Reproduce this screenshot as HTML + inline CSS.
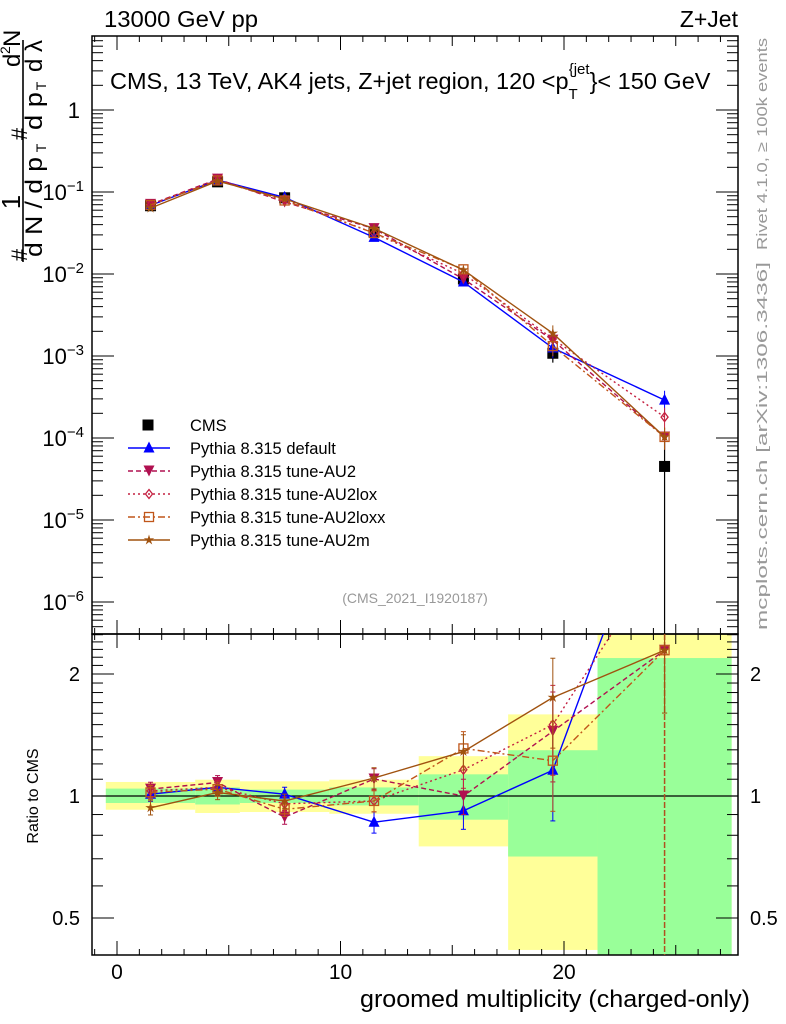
<!DOCTYPE html>
<html><head><meta charset="utf-8"><style>
html,body{margin:0;padding:0;background:#fff;}
svg{display:block;font-family:"Liberation Sans",sans-serif;}
</style></head><body>
<svg id="chart" width="786" height="1024" viewBox="0 0 786 1024"></svg>
<script>
const centers=[1.5,4.5,7.5,11.5,15.5,19.5,24.5];
const binEdges=[-0.5,3.5,5.5,9.5,13.5,17.5,21.5,27.5];
const cmsVals=[0.068,0.133,0.085,0.0325,0.0087,0.00108,0.000045];
const cmsErrLo=[0.003,0.005,0.004,0.0015,0.0007,0.00025,0.000045];
const cmsErrHi=[0.003,0.005,0.004,0.0015,0.0007,0.00025,0.000045];
const bandTotLo=[0.925,0.908,0.913,0.904,0.751,0.417,0.3];
const bandTotHi=[1.083,1.097,1.087,1.097,1.254,1.59,3.0];
const bandStatLo=[0.961,0.953,0.961,0.948,0.874,0.709,0.3];
const bandStatHi=[1.043,1.05,1.037,1.05,1.131,1.297,2.19];
const defVals=[0.0687,0.1397,0.0859,0.0280,0.0080,0.00125,0.00029];
const au2Vals=[0.0707,0.1436,0.0754,0.0358,0.0087,0.00156,0.000103];
const loxVals=[0.0700,0.1397,0.0813,0.0316,0.0101,0.00162,0.00018];
const loxxVals=[0.0694,0.1383,0.0788,0.0316,0.0114,0.00132,0.000103];
const au2mVals=[0.0636,0.1357,0.0826,0.0360,0.0112,0.00189,0.000103];
const modelRelErr=[0.04,0.04,0.04,0.06,0.1,0.25,0.3];
const seriesNames=["Pythia 8.315 default","Pythia 8.315 tune-AU2","Pythia 8.315 tune-AU2lox","Pythia 8.315 tune-AU2loxx","Pythia 8.315 tune-AU2m"];
const mainTicks=[0,-1,-2,-3,-4,-5,-6];
const ratioTicks=[0.5,1,2];
const xTicks=[0,10,20];

const NS="http://www.w3.org/2000/svg";
const svg=document.getElementById('chart');
function mk(tag,attrs,parent){const e=document.createElementNS(NS,tag);for(const k in attrs)e.setAttribute(k,attrs[k]);(parent||svg).appendChild(e);return e;}
const L=92,R=738,T=36,MB=634,RB=955;
const X=v=>117+(v)*22.35;
const Y=v=>110-Math.log10(v)*82;
const RY=v=>796-Math.log2(v)*122;
const clampR=y=>Math.max(634,Math.min(955,y));

const gb=mk('g',{});


for(let i=0;i<centers.length;i++){
  const x0=X(binEdges[i]),x1=X(binEdges[i+1]);
  let y0=clampR(RY(bandTotHi[i])),y1=clampR(RY(bandTotLo[i]));
  const r=mk('rect',{x:x0,y:y0,width:x1-x0,height:y1-y0,fill:'#ffff99'},gb);
  
  
  y0=clampR(RY(bandStatHi[i]));y1=clampR(RY(bandStatLo[i]));
  const g=mk('rect',{x:x0,y:y0,width:x1-x0,height:y1-y0,fill:'#99ff99'},gb);
  
  
}
mk('line',{x1:L,x2:R,y1:RY(1),y2:RY(1),stroke:'#000','stroke-width':1.2});

const fr=mk('rect',{x:L,y:T,width:R-L,height:MB-T,fill:'none',stroke:'#000','stroke-width':1.5});


const fr2=mk('rect',{x:L,y:MB,width:R-L,height:RB-MB,fill:'none',stroke:'#000','stroke-width':1.5});



for(let v=-1;v<=27;v++){
  const x=X(v);const major=v%10===0;const len=major?14:(v%5===0?10:6);
  [[MB,-1],[T,1],[RB,-1],[MB,1]].forEach(([y,d])=>mk('line',{x1:x,x2:x,y1:y,y2:y+d*len,stroke:'#000','stroke-width':1}));
}
xTicks.forEach(v=>{const t=mk('text',{x:X(v),y:979,'font-size':21,'text-anchor':'middle'});t.textContent=v;

});
for(let d=1;d>=-7;d--){for(let m=1;m<=9;m++){const v=m*Math.pow(10,d);const y=Y(v);if(y<T||y>MB)continue;const len=m===1?22:11;
 mk('line',{x1:L,x2:L+len,y1:y,y2:y,stroke:'#000'});mk('line',{x1:R,x2:R-len,y1:y,y2:y,stroke:'#000'});}}
mainTicks.forEach(p=>{const t=mk('text',{x:p===0?80:84,y:Y(Math.pow(10,p))+8,'font-size':22,'text-anchor':'end'});
 if(p===0)t.textContent='1';else{t.textContent='10';const s=mk('tspan',{dy:-9,'font-size':15},t);s.textContent='\u2212'+(-p);}
 
 });
for(let v=0.4;v<=2.55;v+=0.1){const y=RY(v);if(y<MB||y>RB)continue;const maj=[0.5,1,2].some(q=>Math.abs(q-v)<1e-6);const len=maj?22:11;
 mk('line',{x1:L,x2:L+len,y1:y,y2:y,stroke:'#000'});mk('line',{x1:R,x2:R-len,y1:y,y2:y,stroke:'#000'});}
ratioTicks.forEach(v=>{[[80,'end'],[750,'start']].forEach(([x,a])=>{const t=mk('text',{x:x,y:RY(v)+7,'font-size':20,'text-anchor':a});t.textContent=v;

});});

function marker(g,type,x,y,c){
 const s=5.5;
 if(type==='sq')mk('rect',{x:x-s,y:y-s,width:2*s,height:2*s,fill:'#000'},g);
 else if(type==='up')mk('polygon',{points:`${x},${y-s-1} ${x-s},${y+s-1} ${x+s},${y+s-1}`,fill:c},g);
 else if(type==='down')mk('polygon',{points:`${x},${y+s} ${x-s},${y-s} ${x+s},${y-s}`,fill:c},g);
 else if(type==='dia')mk('polygon',{points:`${x},${y-4.5} ${x+3.5},${y} ${x},${y+4.5} ${x-3.5},${y}`,fill:'none',stroke:c,'stroke-width':1.3},g);
 else if(type==='osq')mk('rect',{x:x-4.5,y:y-4.5,width:9,height:9,fill:'none',stroke:c,'stroke-width':1.3},g);
 else if(type==='star'){let p=[];for(let k=0;k<10;k++){const r=k%2?2:5.5;const a=-Math.PI/2+k*Math.PI/5;p.push((x+r*Math.cos(a))+','+(y+r*Math.sin(a)));}mk('polygon',{points:p.join(' '),fill:c},g);}
}
const series=[
 {vals:defVals,c:'#0000ff',m:'up',dash:'',name:'default'},
 {vals:au2Vals,c:'#b01050',m:'down',dash:'5,3',name:'au2'},
 {vals:loxVals,c:'#c42040',m:'dia',dash:'2,3',name:'au2lox'},
 {vals:loxxVals,c:'#c0561a',m:'osq',dash:'7,3,2,3',name:'au2loxx'},
 {vals:au2mVals,c:'#a0520f',m:'star',dash:'',name:'au2m'}];

const clipM=mk('clipPath',{id:'cm'});mk('rect',{x:L,y:T,width:R-L,height:MB-T},clipM);
const clipR=mk('clipPath',{id:'cr'});mk('rect',{x:L,y:MB,width:R-L,height:RB-MB},clipR);

const gc=mk('g',{'clip-path':'url(#cm)'});


centers.forEach((c,i)=>{const x=X(c);const lo=cmsVals[i]-cmsErrLo[i];
 mk('line',{x1:x,x2:x,y1:Y(cmsVals[i]+cmsErrHi[i]),y2:lo>0?Y(lo):MB,stroke:'#000','stroke-width':1.2},gc);
 marker(gc,'sq',x,Y(cmsVals[i]));});
mk('line',{x1:X(24.5),x2:X(24.5),y1:MB,y2:RB,stroke:'#b05020','stroke-width':1.5,'stroke-dasharray':'6,2'});

series.forEach(s=>{
 const g=mk('g',{'clip-path':'url(#cm)'});
 
 
 const pts=centers.map((c,i)=>X(c)+','+Y(s.vals[i])).join(' ');
 mk('polyline',{points:pts,fill:'none',stroke:s.c,'stroke-width':1.4,'stroke-dasharray':s.dash},g);
 centers.forEach((c,i)=>{const v=s.vals[i],e=modelRelErr[i]*v;mk('line',{x1:X(c),x2:X(c),y1:Y(v+e),y2:Y(v-e),stroke:s.c},g);marker(g,s.m,X(c),Y(v),s.c);});
 const gr=mk('g',{'clip-path':'url(#cr)'});
 
 
 const rat=s.vals.map((v,i)=>v/cmsVals[i]);
 mk('polyline',{points:centers.map((c,i)=>X(c)+','+RY(rat[i])).join(' '),fill:'none',stroke:s.c,'stroke-width':1.4,'stroke-dasharray':s.dash},gr);
 centers.forEach((c,i)=>{const r=rat[i],e=modelRelErr[i]*r;mk('line',{x1:X(c),x2:X(c),y1:RY(r+e),y2:RY(Math.max(r-e,0.01)),stroke:s.c},gr);
  [r+e,r-e].forEach(q=>mk('line',{x1:X(c)-2.5,x2:X(c)+2.5,y1:RY(Math.max(q,0.01)),y2:RY(Math.max(q,0.01)),stroke:s.c},gr));
  marker(gr,s.m,X(c),RY(r),s.c);});
});

const lg=mk('g',{});


const ly0=425;
marker(lg,'sq',148,ly0);
let t=mk('text',{x:190,y:ly0+6,'font-size':16.5},lg);t.textContent='CMS';
series.forEach((s,i)=>{const y=ly0+23*(i+1);
 mk('line',{x1:128,x2:170,y1:y,y2:y,stroke:s.c,'stroke-width':1.4,'stroke-dasharray':s.dash},lg);
 marker(lg,s.m,149,y,s.c);
 const tt=mk('text',{x:190,y:y+6,'font-size':16.5},lg);tt.textContent=seriesNames[i];
 
 });

function txt(x,y,s,str,attrs){const e=mk('text',Object.assign({x:x,y:y,'font-size':s},attrs||{}));e.textContent=str;return e;}
let e=txt(104,27,23,'13000 GeV pp',{textLength:154,lengthAdjust:'spacingAndGlyphs'});
e=txt(738,27,23,'Z+Jet',{'text-anchor':'end'});
e=mk('text',{x:110,y:89,'font-size':23.5});e.textContent='CMS, 13 TeV, AK4 jets, Z+jet region, 120 <p';
mk('tspan',{dy:10,'font-size':15},e).textContent='T';
mk('tspan',{dx:-9,dy:-25,'font-size':15},e).textContent='{jet';
mk('tspan',{dy:15,'font-size':23.5},e).textContent='}< 150 GeV';

e=txt(415,603,14,'(CMS_2021_I1920187)',{'text-anchor':'middle',fill:'#999'});
e=txt(750,1007,24,'groomed multiplicity (charged-only)',{'text-anchor':'end',textLength:390,lengthAdjust:'spacingAndGlyphs'});
e=txt(0,0,16,'Ratio to CMS',{transform:'translate(38,796) rotate(-90)','text-anchor':'middle'});
e=txt(0,0,15,'Rivet 4.1.0, \u2265 100k events',{transform:'translate(767,250) rotate(-90)',fill:'#999',textLength:212,lengthAdjust:'spacingAndGlyphs'});
e=txt(0,0,15,'mcplots.cern.ch [arXiv:1306.3436]',{transform:'translate(767,630) rotate(-90)',fill:'#999',textLength:368,lengthAdjust:'spacingAndGlyphs'});

const ya=mk('g',{});


mk('line',{x1:23,x2:23,y1:40,y2:262,stroke:'#000','stroke-width':1.6},ya);
function rt(s,x,y,fs,anchor,len){const a={transform:`translate(${x},${y}) rotate(-90)`,'font-size':fs,'text-anchor':anchor||'middle'};if(len){a.textLength=len;a.lengthAdjust='spacingAndGlyphs';}const q=mk('text',a,ya);q.textContent=s;return q;}
rt('#',27,255,22);
rt('1',20,202,26);
rt('d N / d p',42,257,24,'start',100);
rt('T',46,148,14);
rt('#',27,134,22);
rt('d',20,67,24,'start');
rt('2',10,54,14,'start');
rt('N',20,47,24,'start');
rt('d p',42,130,24,'start',38);
rt('T',46,86,14);
rt('d \u03BB',42,72,24,'start',32);
</script>
</body></html>
